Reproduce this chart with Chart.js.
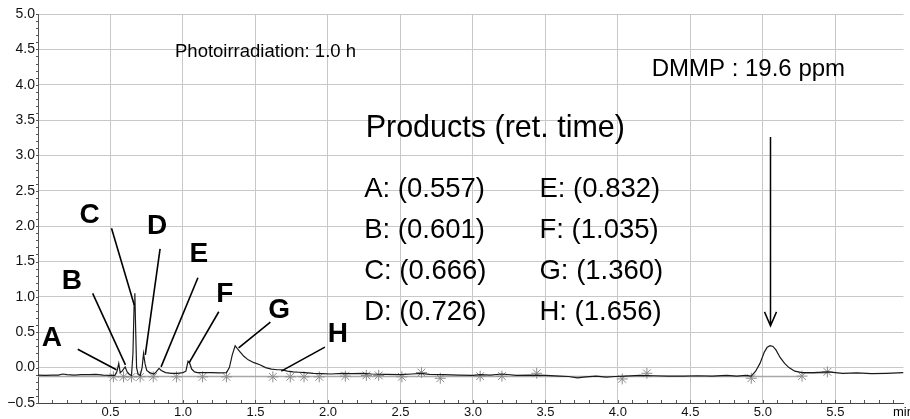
<!DOCTYPE html>
<html>
<head>
<meta charset="utf-8">
<script src="https://cdn.jsdelivr.net/npm/chart.js@4.4.1/dist/chart.umd.min.js"></script>
<style>
  html, body { margin: 0; padding: 0; background: #fff; }
  #wrap { width: 910px; height: 419px; position: relative; }
</style>
</head>
<body>
<div id="wrap"><canvas id="chromChart"></canvas></div>
<script>
// chromatogram trace (retention time in min, detector signal)
const retTimes = [0.00, 0.05, 0.10, 0.14, 0.17, 0.20, 0.25, 0.30, 0.35, 0.40, 0.45, 0.50, 0.53, 0.545, 0.557, 0.567, 0.58, 0.601, 0.615, 0.628, 0.645, 0.655, 0.663, 0.668, 0.673, 0.68, 0.69, 0.705, 0.718, 0.728, 0.738, 0.75, 0.77, 0.80, 0.815, 0.835, 0.85, 0.88, 0.92, 0.96, 1.00, 1.02, 1.035, 1.045, 1.06, 1.08, 1.10, 1.15, 1.20, 1.25, 1.30, 1.32, 1.34, 1.36, 1.375, 1.395, 1.42, 1.45, 1.49, 1.53, 1.57, 1.61, 1.65, 1.68, 1.72, 1.76, 1.80, 1.84, 1.90, 1.96, 2.02, 2.10, 2.16, 2.25, 2.30, 2.40, 2.50, 2.58, 2.64, 2.70, 2.80, 2.90, 3.00, 3.05, 3.12, 3.20, 3.30, 3.40, 3.50, 3.60, 3.66, 3.72, 3.78, 3.85, 3.92, 3.98, 4.05, 4.15, 4.25, 4.35, 4.45, 4.55, 4.65, 4.75, 4.82, 4.88, 4.92, 4.95, 4.98, 5.01, 5.03, 5.05, 5.07, 5.09, 5.12, 5.15, 5.18, 5.22, 5.27, 5.35, 5.45, 5.55, 5.65, 5.75, 5.85, 5.97];
const signal = [-0.105, -0.11, -0.105, -0.105, -0.09, -0.10, -0.105, -0.10, -0.10, -0.095, -0.105, -0.11, -0.11, -0.05, 0.06, -0.07, -0.05, 0.01, -0.06, -0.09, -0.11, 0.2, 0.9, 1.05, 0.6, 0.0, -0.09, -0.11, 0.0, 0.2, 0.06, -0.04, -0.07, -0.09, -0.06, -0.01, -0.04, -0.07, -0.08, -0.08, -0.07, -0.05, 0.09, 0.07, -0.02, -0.06, -0.07, -0.07, -0.07, -0.075, -0.07, 0.0, 0.18, 0.31, 0.27, 0.22, 0.16, 0.11, 0.07, 0.04, 0.0, -0.02, -0.03, -0.03, -0.05, -0.06, -0.065, -0.07, -0.08, -0.085, -0.09, -0.08, -0.085, -0.08, -0.09, -0.095, -0.10, -0.09, -0.08, -0.095, -0.10, -0.105, -0.11, -0.10, -0.105, -0.09, -0.11, -0.105, -0.11, -0.12, -0.125, -0.145, -0.13, -0.12, -0.135, -0.125, -0.12, -0.11, -0.115, -0.12, -0.12, -0.115, -0.12, -0.11, -0.12, -0.11, -0.12, -0.05, 0.06, 0.22, 0.29, 0.31, 0.30, 0.25, 0.14, 0.06, 0.0, -0.05, -0.07, -0.07, -0.06, -0.08, -0.075, -0.085, -0.08, -0.07];

// integration marks (asterisks) and baseline
const markTimes = [0.52, 0.59, 0.645, 0.705, 0.795, 0.955, 1.135, 1.30, 1.62, 1.74, 1.835, 1.94, 2.12, 2.265, 2.35, 2.51, 2.645, 2.775, 3.05, 3.20, 3.44, 4.03, 4.20, 4.92, 5.27, 5.445];
const markLevels = [-0.13, -0.13, -0.13, -0.13, -0.13, -0.13, -0.13, -0.13, -0.13, -0.13, -0.13, -0.13, -0.12, -0.11, -0.11, -0.13, -0.07, -0.15, -0.12, -0.12, -0.08, -0.16, -0.08, -0.15, -0.12, -0.06];
const baseTimes = [0.0, 5.27, null, 5.27, 5.445];
const baseLevels = [-0.125, -0.125, null, -0.075, -0.075];

// peak names and retention times
const peakNames = ["A", "B", "C", "D", "E", "F", "G", "H"];
const peakTimes = [0.557, 0.601, 0.666, 0.726, 0.832, 1.035, 1.360, 1.656];

// axis ticks
const xTicks = [0.5, 1.0, 1.5, 2.0, 2.5, 3.0, 3.5, 4.0, 4.5, 5.0, 5.5];
const yTicks = [-0.5, 0.0, 0.5, 1.0, 1.5, 2.0, 2.5, 3.0, 3.5, 4.0, 4.5, 5.0];

// where the peak letters and their leader lines sit (data units)
const noteX = [0.096, 0.233, 0.356, 0.822, 1.11, 1.288, 1.664, 2.068];
const noteY = [0.447, 1.25, 2.18, 2.03, 1.63, 1.07, 0.84, 0.50];
const leadFrom = [[0.274, 0.26], [0.377, 1.05], [0.507, 1.97], [0.842, 1.68], [1.103, 1.27], [1.247, 0.79], [1.603, 0.645], [1.979, 0.29]];
const leadTo = [[0.541, -0.03], [0.603, 0.04], [0.664, 0.885], [0.74, 0.18], [0.849, 0.01], [1.041, 0.065], [1.384, 0.28], [1.678, -0.05]];

const FONT = "'Liberation Sans', Arial, sans-serif";

const notesPlugin = {
  id: "notes",
  afterDatasetsDraw(chart) {
    const { ctx, chartArea, scales: { x, y } } = chart;
    ctx.save();

    // minor ticks
    ctx.strokeStyle = "#555";
    ctx.lineWidth = 1;
    ctx.beginPath();
    for (let i = -5; i <= 50; i++) {
      const py = Math.round(y.getPixelForValue(i / 10)) + 0.5;
      ctx.moveTo(chartArea.left - 2, py);
      ctx.lineTo(chartArea.left, py);
    }
    for (let i = 1; i <= 59; i++) {
      const px = Math.round(x.getPixelForValue(i / 10)) + 0.5;
      ctx.moveTo(px, chartArea.bottom - 3);
      ctx.lineTo(px, chartArea.bottom);
    }
    ctx.stroke();

    // peak letters + leader lines
    ctx.fillStyle = "#000";
    ctx.strokeStyle = "#000";
    ctx.lineWidth = 1.6;
    ctx.font = "bold 28px " + FONT;
    ctx.textAlign = "center";
    ctx.textBaseline = "middle";
    peakNames.forEach((name, i) => {
      ctx.fillText(name, x.getPixelForValue(noteX[i]), y.getPixelForValue(noteY[i]) + 2);
      ctx.beginPath();
      ctx.moveTo(x.getPixelForValue(leadFrom[i][0]), y.getPixelForValue(leadFrom[i][1]));
      ctx.lineTo(x.getPixelForValue(leadTo[i][0]), y.getPixelForValue(leadTo[i][1]));
      ctx.stroke();
    });

    // text blocks
    ctx.textAlign = "left";
    ctx.textBaseline = "alphabetic";
    ctx.font = "18.5px " + FONT;
    ctx.fillText("Photoirradiation: 1.0 h", x.getPixelForValue(0.945), y.getPixelForValue(4.39));
    ctx.font = "24px " + FONT;
    ctx.fillText("DMMP : 19.6 ppm", x.getPixelForValue(4.233), y.getPixelForValue(4.12));
    ctx.font = "30.5px " + FONT;
    ctx.fillText("Products (ret. time)", x.getPixelForValue(2.26), y.getPixelForValue(3.26));

    ctx.font = "27.5px " + FONT;
    const rowY = [2.41, 1.83, 1.25, 0.67];
    peakNames.forEach((name, i) => {
      const col = i < 4 ? 2.25 : 3.459;
      ctx.fillText(name + ": (" + peakTimes[i].toFixed(3) + ")", x.getPixelForValue(col), y.getPixelForValue(rowY[i % 4]));
    });

    // arrow to DMMP peak
    const ax = Math.round(x.getPixelForValue(5.05)) + 0.5;
    const ay0 = y.getPixelForValue(3.26);
    const ay1 = y.getPixelForValue(0.59);
    ctx.lineWidth = 1.5;
    ctx.beginPath();
    ctx.moveTo(ax, ay0);
    ctx.lineTo(ax, ay1);
    ctx.moveTo(ax - 6, ay1 - 14);
    ctx.lineTo(ax, ay1);
    ctx.lineTo(ax + 6, ay1 - 14);
    ctx.stroke();

    // axis unit
    ctx.font = "13px " + FONT;
    ctx.textBaseline = "top";
    ctx.fillText("min", 893, chartArea.bottom + 3);

    ctx.restore();
  }
};

const ctx = document.getElementById("chromChart").getContext("2d");

new Chart(ctx, {
  type: "line",
  data: {
    datasets: [
      {
        label: "baseline",
        data: baseTimes.map((t, i) => ({ x: t, y: baseLevels[i] })),
        borderColor: "#a8a8a8",
        borderWidth: 1.5,
        pointRadius: 0,
        spanGaps: false,
        order: 3
      },
      {
        label: "marks",
        data: markTimes.map((t, i) => ({ x: t, y: markLevels[i] })),
        showLine: false,
        pointStyle: "star",
        pointRadius: 5.5,
        pointBorderColor: "#8c8c8c",
        pointBorderWidth: 1,
        order: 2
      },
      {
        label: "signal",
        data: retTimes.map((t, i) => ({ x: t, y: signal[i] })),
        borderColor: "#1a1a1a",
        borderWidth: 1.2,
        pointRadius: 0,
        tension: 0,
        order: 1
      }
    ]
  },
  options: {
    responsive: true,
    maintainAspectRatio: false,
    animation: false,
    layout: { padding: { top: 14, right: 0, left: 0, bottom: 0 } },
    plugins: {
      legend: { display: false },
      tooltip: { enabled: false }
    },
    scales: {
      x: {
        type: "linear",
        min: 0,
        max: 5.97,
        afterBuildTicks: (s) => { s.ticks = xTicks.map((v) => ({ value: v })); },
        afterFit: (s) => { s.height = 16; },
        grid: { color: "#c8c8c8", drawTicks: false },
        border: { color: "#444", width: 1 },
        ticks: {
          padding: 2,
          color: "#111",
          font: { family: FONT, size: 13 },
          callback: (v) => Number(v).toFixed(1)
        }
      },
      y: {
        type: "linear",
        min: -0.5,
        max: 5.0,
        afterBuildTicks: (s) => { s.ticks = yTicks.map((v) => ({ value: v })); },
        afterFit: (s) => { s.width = 38; },
        grid: { color: "#c8c8c8", drawTicks: false },
        border: { color: "#555", width: 1 },
        ticks: {
          padding: 3,
          color: "#111",
          font: { family: FONT, size: 14 },
          callback: (v) => Number(v).toFixed(1).replace("-", "\u2212")
        }
      }
    }
  },
  plugins: [notesPlugin]
});
</script>
</body>
</html>
